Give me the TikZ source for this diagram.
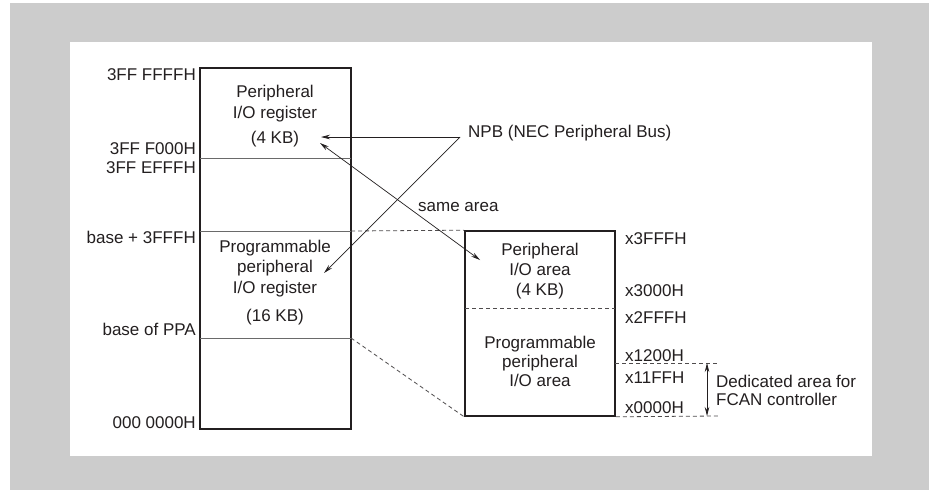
\documentclass[tikz,border=0pt]{standalone}
\usepackage{fontspec}
\setmainfont{Liberation Sans}
\usetikzlibrary{arrows.meta}
\definecolor{ink}{HTML}{231F20}
\definecolor{bggray}{HTML}{CCCCCC}
\definecolor{sepgray}{HTML}{6A6A6A}
\tikzset{
  lbl/.style={font=\fontsize{17}{20}\selectfont, text=ink, inner sep=0pt, anchor=base},
  lblr/.style={lbl, anchor=base east},
  lbll/.style={lbl, anchor=base west},
  membox/.style={draw=ink, line width=1.6pt, inner sep=0pt},
  sepline/.style={draw=sepgray, line width=0.9pt},
  dline/.style={draw=ink!80, line width=0.8pt, dash pattern=on 4pt off 3pt},
  arr/.style={draw=ink, line width=0.7pt, -{Stealth[length=9pt,width=4.5pt]}},
  darr/.style={draw=ink, line width=0.7pt, {Stealth[length=9pt,width=4.5pt]}-{Stealth[length=9pt,width=4.5pt]}},
}
\begin{document}
\begin{tikzpicture}[x=1pt,y=-1pt]
\useasboundingbox (0,0) rectangle (929,490);
\fill[bggray] (10,3) rectangle (929,490);
\fill[white] (70,42) rectangle (872,456);

% left memory map
\node[membox, minimum width=151pt, minimum height=361pt] (L) at (275.5,248.5) {};
\coordinate (La) at (200,158); \coordinate (Lb) at (351,158);
\coordinate (Lc) at (200,231); \coordinate (Ld) at (351,231);
\coordinate (Le) at (200,338); \coordinate (Lf) at (351,338);
\draw[sepline] (La) -- (Lb);
\draw[sepline] (Lc) -- (Ld);
\draw[sepline] (Le) -- (Lf);

% right memory map
\node[membox, minimum width=150pt, minimum height=185pt] (R) at (540,323.5) {};
\coordinate (Ra) at (465,308); \coordinate (Rb) at (615,308);
\draw[dline] (Ra) -- (Rb);

% dashed correspondences
\draw[dline] (Ld) -- (R.north west);
\draw[dline] (Lf) -- (R.south west);
\coordinate (Dx) at (615,363); \coordinate (Dy) at (718,363);
\coordinate (Dz) at (718,416);
\draw[dline] (Dx) -- (Dy);
\draw[dline] (R.south east) -- (Dz);
\coordinate (Va) at (707,363); \coordinate (Vb) at (707,416);
\draw[darr] (Va) -- (Vb);

% left address labels
\node[lblr] (a1) at (196,80) {3FF FFFFH};
\node[lblr] (a2) at (196,154) {3FF F000H};
\node[lblr] (a3) at (196,173) {3FF EFFFH};
\node[lblr] (a4) at (196,243) {base + 3FFFH};
\node[lblr] (a5) at (196,335) {base of PPA};
\node[lblr] (a6) at (196,428) {000 0000H};

% left box contents
\node[lbl] (t1) at (275,97) {Peripheral};
\node[lbl] (t2) at (275,118) {I/O register};
\node[lbl] (t3) at (275,143) {(4 KB)};
\node[lbl] (t4) at (275,252) {Programmable};
\node[lbl] (t5) at (275,272) {peripheral};
\node[lbl] (t6) at (275,293) {I/O register};
\node[lbl] (t7) at (275,321) {(16 KB)};

% right box contents
\node[lbl] (r1) at (540,255) {Peripheral};
\node[lbl] (r2) at (540,275) {I/O area};
\node[lbl] (r3) at (540,295) {(4 KB)};
\node[lbl] (r4) at (540,348) {Programmable};
\node[lbl] (r5) at (540,367) {peripheral};
\node[lbl] (r6) at (540,386) {I/O area};

% right address labels
\node[lbll] (b1) at (625,244) {x3FFFH};
\node[lbll] (b2) at (625,296) {x3000H};
\node[lbll] (b3) at (625,323) {x2FFFH};
\node[lbll] (b4) at (625,361) {x1200H};
\node[lbll] (b5) at (625,383) {x11FFH};
\node[lbll] (b6) at (625,413) {x0000H};

\node[lbll] (d1) at (716,387) {Dedicated area for};
\node[lbll] (d2) at (716,405) {FCAN controller};

% NPB
\node[lbll] (npb) at (468,137) {NPB (NEC Peripheral Bus)};
\coordinate (Np) at (460,137);
\coordinate (N1) at (321,137);
\coordinate (N2) at (324,273);
\draw[arr] (Np) -- (N1);
\draw[arr] (Np) -- (N2);

% same area
\node[lbll] (same) at (418,211) {same area};
\coordinate (S1) at (320,143);
\coordinate (S2) at (480,260);
\draw[darr] (S1) -- (S2);
\end{tikzpicture}
\end{document}
